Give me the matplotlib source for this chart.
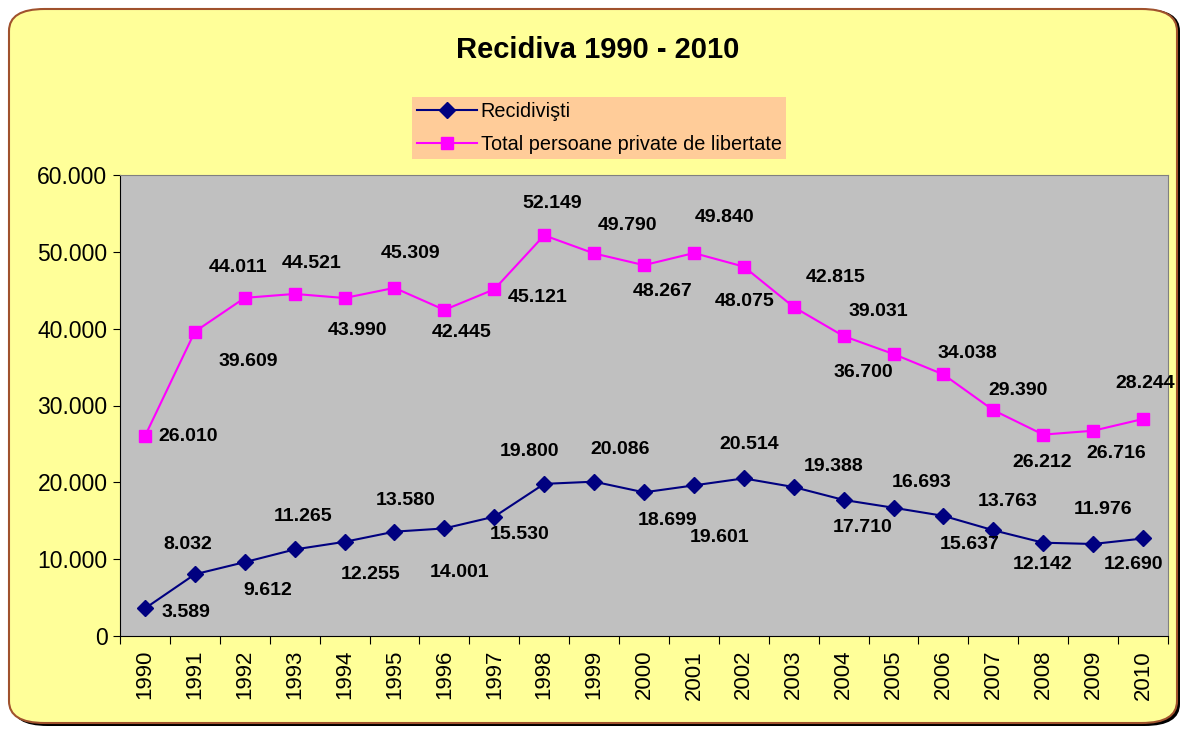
import matplotlib.pyplot as plt
from matplotlib.patches import FancyBboxPatch
from matplotlib.ticker import FuncFormatter, FixedLocator
import numpy as np

plt.rcParams['font.family'] = ['Liberation Sans', 'DejaVu Sans']

years = [str(y) for y in range(1990, 2011)]
recidivisti = [3589, 8032, 9612, 11265, 12255, 13580, 14001, 15530, 19800, 20086,
               18699, 19601, 20514, 19388, 17710, 16693, 15637, 13763, 12142, 11976, 12690]
total = [26010, 39609, 44011, 44521, 43990, 45309, 42445, 45121, 52149, 49790,
         48267, 49840, 48075, 42815, 39031, 36700, 34038, 29390, 26212, 26716, 28244]

# label offsets in pixels (dx, dy) relative to each point, as in the original
rec_off = [(41, -4), (-7, 30), (23, -28), (8, 33), (26, -33), (11, 31), (15, -44), (25, -18),
           (-15, 32), (26, 32), (24, -28), (26, -52), (5, 34), (40, 21), (19, -28),
           (28, 25), (26, -29), (14, 29), (-1, -22), (10, 34), (-10, -26)]
tot_off = [(43, 0), (53, -30), (-7, 30), (17, 30), (13, -32), (16, 34), (17, -23), (43, -8),
           (8, 32), (33, 28), (19, -26), (31, 36), (1, -35), (42, 30), (35, 25),
           (-30, -18), (24, 21), (25, 20), (-1, -28), (23, -23), (2, 35)]

fig = plt.figure(figsize=(11.82, 7.30), dpi=100)
fig.patch.set_facecolor('white')

W, H = 1182, 730
# shadow + rounded yellow panel
shadow = FancyBboxPatch((12 / W, 4 / H), 1168 / W, 717 / H,
                        boxstyle="round,pad=0,rounding_size=0.03",
                        transform=fig.transFigure, facecolor='black', edgecolor='none', zorder=-2)
panel = FancyBboxPatch((9 / W, 7 / H), 1168 / W, 714 / H,
                       boxstyle="round,pad=0,rounding_size=0.03",
                       transform=fig.transFigure, facecolor='#FFFF99', edgecolor='#A0522D',
                       linewidth=1.5, zorder=-1)
fig.patches.extend([shadow, panel])

ax = fig.add_axes([120 / W, 1 - 636 / H, 1048 / W, 461 / H])
ax.set_facecolor('#C0C0C0')
x = np.arange(len(years))

ax.plot(x, recidivisti, color='#000080', lw=1.5, marker='D', ms=8, label='Recidivişti', zorder=3)
ax.plot(x, total, color='#FF00FF', lw=1.5, marker='s', ms=8, label='Total persoane private de libertate', zorder=3)

def fmt(v):
    return f"{v:,}".replace(',', '.')

for xi, v, (dx, dy) in zip(x, recidivisti, rec_off):
    ax.annotate(fmt(v), (xi, v), xytext=(dx, dy), textcoords='offset pixels',
                ha='center', va='center', fontsize=14, fontweight='bold', zorder=4)
for xi, v, (dx, dy) in zip(x, total, tot_off):
    ax.annotate(fmt(v), (xi, v), xytext=(dx, dy), textcoords='offset pixels',
                ha='center', va='center', fontsize=14, fontweight='bold', zorder=4)

ax.set_xlim(-0.5, len(years) - 0.5)
ax.set_ylim(0, 60000)
ax.set_yticks(np.arange(0, 60001, 10000))
ax.yaxis.set_major_formatter(FuncFormatter(lambda v, p: '0' if v == 0 else fmt(int(v))))
ax.tick_params(axis='y', labelsize=16.5, direction='out', length=5, pad=4)

# category ticks at bin edges, labels at centres
ax.xaxis.set_major_locator(FixedLocator(np.arange(-0.5, len(years), 1)))
ax.xaxis.set_minor_locator(FixedLocator(x))
ax.set_xticklabels([''] * (len(years) + 1))
ax.set_xticklabels(years, minor=True, rotation=90, fontsize=16)
ax.tick_params(axis='x', which='major', direction='out', length=6)
ax.tick_params(axis='x', which='minor', length=0, pad=10)

for s in ['top', 'right']:
    ax.spines[s].set_color('#808080')
for s in ['left', 'bottom']:
    ax.spines[s].set_color('black')

fig.text(598 / W, 1 - 50 / H, 'Recidiva 1990 - 2010', ha='center', va='center',
         fontsize=21, fontweight='bold')

leg = fig.legend(loc='upper left', bbox_to_anchor=(412 / W, 1 - 97 / H), fontsize=14.3,
                 frameon=True, fancybox=False, handlelength=3.0, borderpad=0.25,
                 labelspacing=0.7, handletextpad=0.2, borderaxespad=0)
leg.get_frame().set_facecolor('#FFCC99')
leg.get_frame().set_edgecolor('none')
leg.get_frame().set_alpha(1)

fig.savefig('out.png', dpi=100)
